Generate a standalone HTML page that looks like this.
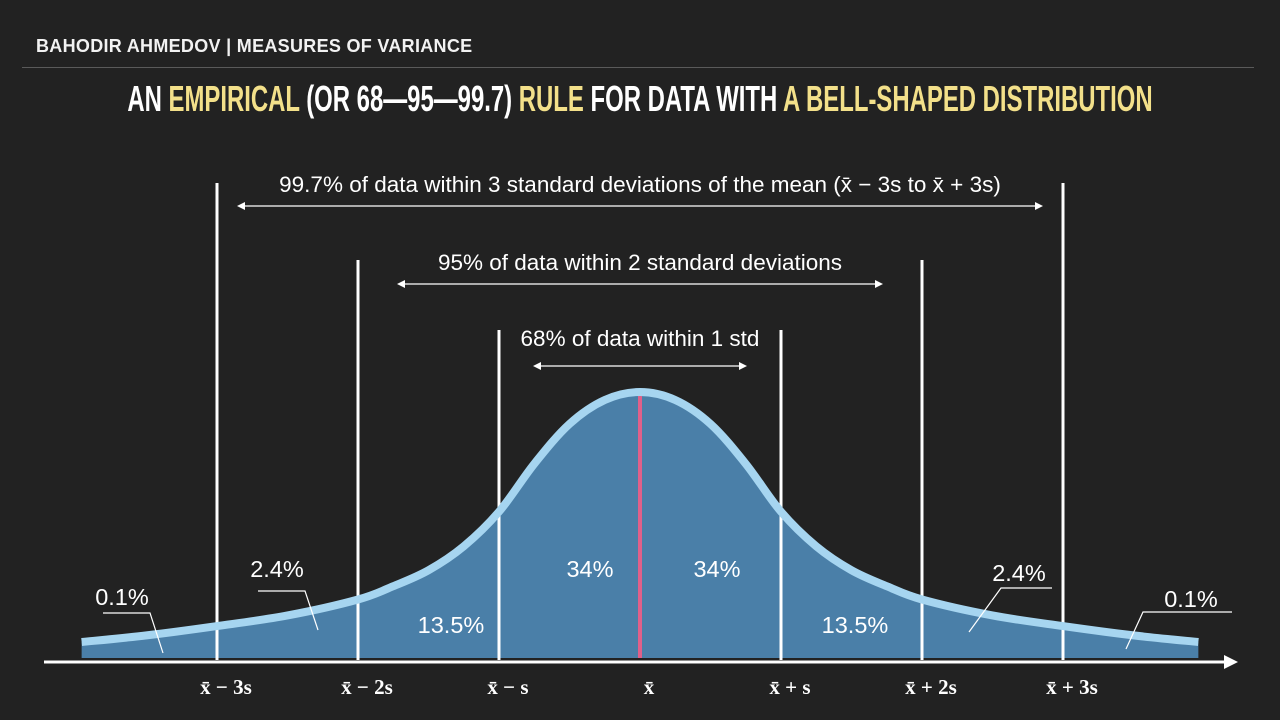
<!DOCTYPE html>
<html><head><meta charset="utf-8">
<style>
html,body{margin:0;padding:0;background:#222222;}
body{width:1280px;height:720px;overflow:hidden;position:relative;font-family:"Liberation Sans",sans-serif;}
.hdr{position:absolute;left:36px;top:36px;color:#f2f2f2;font-weight:bold;font-size:18px;letter-spacing:0.3px;white-space:nowrap;}
.sep{position:absolute;left:22px;top:67px;width:1232px;height:1px;background:#5a5a5a;}
.title{position:absolute;left:640px;top:78px;color:#fff;font-weight:bold;font-size:36px;white-space:nowrap;transform-origin:center center;transform:translateX(-50%) scaleX(0.664);}
.y{color:#f3e08a;}
</style></head><body>
<div class="hdr">BAHODIR AHMEDOV | MEASURES OF VARIANCE</div>
<div class="sep"></div>
<div class="title">AN <span class="y">EMPIRICAL</span> (OR 68—95—99.7) <span class="y">RULE</span> FOR DATA WITH <span class="y">A BELL-SHAPED DISTRIBUTION</span></div>
<svg id="chart" width="1280" height="720" style="position:absolute;left:0;top:0"></svg>
<script>
// data
const zSamples = [-3.96,-3.5,-3,-2.5,-2,-1.75,-1.5,-1.25,-1,-0.75,-0.5,-0.25,0,0.25,0.5,0.75,1,1.25,1.5,1.75,2,2.5,3,3.5,3.96];
const heights  = [0.06,0.085,0.12,0.16,0.22,0.27,0.33,0.42,0.55,0.73,0.88,0.97,1.0,0.97,0.88,0.73,0.55,0.42,0.33,0.27,0.22,0.16,0.12,0.085,0.06];
const sdMarks = [-3,-2,-1,1,2,3];
const tickLabels = ["x̄ − 3s","x̄ − 2s","x̄ − s","x̄","x̄ + s","x̄ + 2s","x̄ + 3s"];
const tickZ = [-3,-2,-1,0,1,2,3];
const regionLabels = ["34%","34%","13.5%","13.5%","2.4%","2.4%","0.1%","0.1%"];
const spans = [3,2,1];
const spanTexts = ["99.7% of data within 3 standard deviations of the mean (x̄ − 3s to x̄ + 3s)","95% of data within 2 standard deviations","68% of data within 1 std"];

const NS="http://www.w3.org/2000/svg";
const svg=document.getElementById('chart');
const cx=640, sPx=141, base=658, peakH=266;
const X=z=>cx+z*sPx, Y=h=>base-h*peakH;
function mk(tag,attrs,name){const e=document.createElementNS(NS,tag);for(const k in attrs)e.setAttribute(k,attrs[k]);


svg.appendChild(e);return e;}
const pts=zSamples.map((z,i)=>[X(z),Y(heights[i])]);
let d=`M${pts[0][0]},${pts[0][1]}`;
for(let i=0;i<pts.length-1;i++){const p0=pts[Math.max(0,i-1)],p1=pts[i],p2=pts[i+1],p3=pts[Math.min(pts.length-1,i+2)];
d+=` C${p1[0]+(p2[0]-p0[0])/6},${p1[1]+(p2[1]-p0[1])/6} ${p2[0]-(p3[0]-p1[0])/6},${p2[1]-(p3[1]-p1[1])/6} ${p2[0]},${p2[1]}`;}
const last=pts[pts.length-1];
mk('path',{d:d+` L${last[0]},${base} L${pts[0][0]},${base} Z`,fill:'#4a7fa8'},'curve-fill');
const tops={3:183,2:260,1:330};
sdMarks.forEach(z=>{mk('line',{x1:X(z),x2:X(z),y1:tops[Math.abs(z)],y2:base+2,stroke:'#fff','stroke-width':3},'sd-line');});
mk('line',{x1:cx,x2:cx,y1:Y(1)+2,y2:base,stroke:'#e0608a','stroke-width':4},'mean-line');
mk('path',{d:d,fill:'none',stroke:'#a6d5f0','stroke-width':8},'bell-curve');
mk('line',{x1:44,x2:1228,y1:662,y2:662,stroke:'#fff','stroke-width':3},'x-axis');
mk('path',{d:'M1238,662 L1224,655 L1224,669 Z',fill:'#fff'},'x-axis-arrow');
tickZ.forEach((z,i)=>{const t=mk('text',{x:X(z)+9,y:694,fill:'#fff','font-family':'Liberation Serif, serif','font-weight':'bold','font-size':21,'text-anchor':'middle'},'tick-label');t.textContent=tickLabels[i];});
const spanY=[206,284,366], spanTY=[192,270,346], spanPad=[20,39,34];
spans.forEach((s,i)=>{const x1=X(-s)+spanPad[i],x2=X(s)-spanPad[i];
mk('line',{x1:x1+6,x2:x2-6,y1:spanY[i],y2:spanY[i],stroke:'#fff','stroke-width':1.3},'span-arrow');
mk('path',{d:`M${x1},${spanY[i]} l8,-4 l0,8 Z M${x2},${spanY[i]} l-8,-4 l0,8 Z`,fill:'#fff'},'span-arrowhead');
const t=mk('text',{x:cx,y:spanTY[i],fill:'#fff','font-size':22.5,'text-anchor':'middle'},'span-label');t.textContent=spanTexts[i];});
const lp=[[590,577],[717,577],[451,633],[855,633],[277,577],[1019,581],[122,605],[1191,607]];
regionLabels.forEach((l,i)=>{const t=mk('text',{x:lp[i][0],y:lp[i][1],fill:'#fff','font-size':23.5,'text-anchor':'middle'},'region-label');t.textContent=l;});
['M103,613 L150,613 L163,653','M258,591 L305,591 L318,630','M1052,588 L1001,588 L969,632','M1232,612 L1143,612 L1126,649'].forEach(p=>mk('path',{d:p,fill:'none',stroke:'#fff','stroke-width':1.2},'leader-line'));
</script>
</body></html>
